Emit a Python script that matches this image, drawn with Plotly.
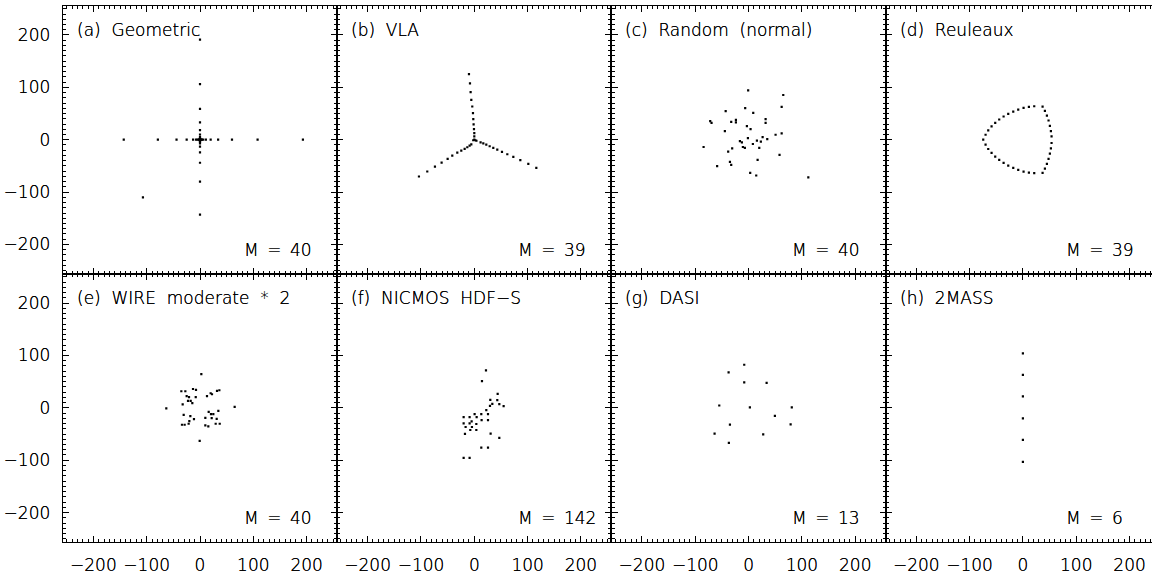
import plotly.graph_objects as go

# ---------------- data ----------------
panel_labels = ["(a)\u00a0\u00a0Geometric", "(b)\u00a0\u00a0VLA", "(c)\u00a0\u00a0Random\u00a0\u00a0(normal)",
                "(d)\u00a0\u00a0Reuleaux", "(e)\u00a0\u00a0WIRE\u00a0\u00a0moderate\u00a0\u00a0*\u00a0\u00a02",
                "(f)\u00a0\u00a0NICMOS\u00a0\u00a0HDF\u2212S", "(g)\u00a0\u00a0DASI", "(h)\u00a0\u00a02MASS"]
panel_M = [40, 39, 40, 39, 40, 142, 13, 6]

geo_x = [193, 108, 60, 34, 20, 11, 6, 3.5, 2,
         -143, -79, -44, -25, -13, -7.5, -4.4, -2.4, -1.2,
         0, 0, 0, 0, 0, 0, 0, 0, 0,
         0, 0, 0, 0, 0, 0, 0, 0, 0,
         -107, 0, 1, 0]
geo_y = [0, 0, 0, 0, 0, 0, 0, 0, 0,
         0, 0, 0, 0, 0, 0, 0, 0, 0,
         191, 106, 59, 33, 18.5, 10, 5.7, 3.2, 1.8,
         -143, -80, -44, -24, -13.3, -7, -4, -2.2, -1.2,
         -110, 0, 0, 1]

vla_x = [-10, -8.1, -6.9, -5.6, -3.8, -2.5, -1.9, -1.3, -0.6, 0, 0,
         -103.8, -88.2, -73.8, -61.3, -50, -41.3, -31.9, -24.4, -18.1, -13.1, -8.8, -5.6,
         116.3, 101.3, 86.3, 73.2, 61.9, 51.9, 43.1, 35.6, 28.8, 22.5, 16.9, 11.8,
         0, 2, -2, 4]
vla_y = [125.3, 107.6, 91, 75.9, 63.4, 50.7, 39.3, 29.2, 20.3, 12.6, 6.3,
         -70.2, -60.7, -51.2, -43.6, -36.6, -30.4, -24.7, -20.9, -17.6, -14.4, -11.4, -8.7,
         -53.7, -46.1, -39.1, -32.8, -27.7, -23.3, -19, -15.7, -12.5, -9.5, -6.8, -4.9,
         0, -1, -1, -2]

rnd_x = [-0.8, 65, 62, -43, -6.4, 8.7, -72, -69.5, -32.6, -23.8, -23.8, 31.9, 31.9,
         -44.5, -3.2, 3.7, 62, 50.6, 26.3, 35, -1.3, 15.6, 23, -16.3, -12.6, 8,
         -84.4, -10.7, -7, 20, -30.8, -38.3, 58, 16.9, -35, -32.6, -59, 3, 14.3, 112]
rnd_y = [94.3, 85.4, 62.6, 54.5, 60.2, 51.2, 35.5, 32.3, 34.2, 38, 33, 39.3, 32.3,
         16.5, 26, 20.3, 12, 9.5, 5.1, 1.3, 3.2, -1.9, -3.8, -2.5, -5, -8.2,
         -13.9, -13.9, -15.7, -15.7, -16.4, -22.8, -29, -38.5, -42.3, -48, -50.6, -63.2, -68.3, -72]

reu_x = [-74.4, -70.0, -65.0, -58.75, -51.9, -44.4, -36.2, -27.5, -18.1, -8.75, 1.25, 11.25, 21.25,
         36.9, 41.25, 45.0, 48.1, 50.6, 52.5, 53.75, 53.75, 52.5, 50.6, 48.1, 45.0, 41.25,
         36.9, 21.25, 11.25, 1.25, -8.75, -18.1, -27.5, -36.2, -44.4, -51.9, -58.75, -65.0, -70.0]
reu_y = [0, 9.5, 17.7, 25.3, 32.3, 38.6, 44.3, 49.4, 53.8, 57.6, 60.8, 62.7, 63.9,
         63.3, 55.1, 46.2, 36.7, 26.6, 16.5, 6.3, -6.3, -16.5, -26.6, -36.7, -46.2, -55.1,
         -63.3, -63.9, -62.7, -60.8, -57.6, -53.8, -49.4, -44.3, -38.6, -32.3, -25.3, -17.7, -9.5]

wire_x = [2.5, -35, -27.5, -13.1, -7.5, 20, 22.5, 31.9, 36.3, 13.1, -25, -20.6, -8,
          -22.5, -17.5, -14.4, -32.5, -63.2, 65, 16.3, 34.4, 20.6, 25, -30.6, -18.1,
          10, 21.9, 31.3, -11.3, -20, 29.4, 37, -33.8, -28.8, -21.3, 10, 15.6, -0.6]
wire_y = [64.5, 31.7, 31.7, 36, 34.2, 27.9, 26, 32.3, 33.6, 22.2, 22.2, 20.3, 20.3,
          13.3, 13.3, 8.9, 6.5, -1.2, 1.9, -7.6, -5.7, -12, -12, -13.3, -15.7,
          -19, -19.5, -20.9, -21.4, -25.2, -30.4, -30.4, -32.3, -32.3, -30.4, -33.4, -35.3, -63.2]

nic_x = [21.9, 14.4, 43.8, 30, 43.1, 33.8, 46.9, 55, 29.4, 22.5, 0.6, 13.1, 25.7,
         -20, -8.8, 4.4, 13.7, 25.7, -5, -20, -8.8, 3.8, -16.3, -4.4, -7.5, 3.8,
         -17.5, 30.6, 46.9, 13.1, 25.7, -20, -8.8]
nic_y = [71.5, 51.2, 26.6, 15.2, 14.6, 7.6, 7, 3.2, 3.8, -4.4, -12, -12, -12,
         -17.6, -17.6, -17.6, -23.3, -23.3, -25.8, -29.6, -29.6, -30.9, -36.6, -36.6, -42.3, -42.3,
         -49.9, -49.3, -57.5, -75.9, -75.9, -95.4, -95.4]

dasi_x = [-8.2, -37.5, -8.2, 33.8, -55, 2.4, 81, 49.3, -35, 78.8, -63.8, 27.4, -37]
dasi_y = [82.3, 67.7, 48.8, 47.5, 4.5, 0.7, 0.7, -15.2, -32.2, -31.5, -49.3, -50.5, -67]

tmass_x = [0, 0, 0, 0, 0, 0]
tmass_y = [104, 63, 22, -20, -61, -103]

series = [(geo_x, geo_y), (vla_x, vla_y), (rnd_x, rnd_y), (reu_x, reu_y),
          (wire_x, wire_y), (nic_x, nic_y), (dasi_x, dasi_y), (tmass_x, tmass_y)]

# ---------------- layout ----------------
W, H = 1152, 575
PANEL_W = 274.3          # px
LEFT0 = 62.85            # px
XHALF = 257.2            # data half-range in x
YHALF = 256.0
ROW_TOP = [5.7, 275.7]   # px from top
PANEL_H = 270.0

FONT = dict(family="DejaVu Sans", size=17, color="black", weight=200,
            shadow="0px 0px 0.4px black")

fig = go.Figure()
layout = dict(width=W, height=H, margin=dict(l=0, r=0, t=0, b=0),
              paper_bgcolor="white", plot_bgcolor="white", showlegend=False,
              font=FONT)
annotations = []

for k in range(8):
    r, c = divmod(k, 4)
    sfx = "" if k == 0 else str(k + 1)
    left = LEFT0 + PANEL_W * c
    right = min(left + PANEL_W, W)
    xr = [-XHALF, -XHALF + (right - left) / PANEL_W * 2 * XHALF]
    top = ROW_TOP[r]
    bot = top + PANEL_H
    xs, ys = series[k]
    fig.add_trace(go.Scatter(x=xs, y=ys, mode="markers", xaxis="x" + sfx, yaxis="y" + sfx,
                             marker=dict(symbol="square", size=2.2, color="black",
                                         line=dict(width=0)),
                             hoverinfo="skip"))
    common = dict(showline=True, linecolor="black", linewidth=1.3,
                  ticks="inside", ticklen=6, tickwidth=1, tickcolor="black",
                  tick0=0, dtick=100, showgrid=False, zeroline=False,
                  minor=dict(dtick=10, ticks="inside", ticklen=3, tickwidth=1,
                             tickcolor="black", showgrid=False),
                  tickfont=FONT, ticklabelstandoff=8, fixedrange=True)
    layout["xaxis" + sfx] = dict(common, domain=[left / W, right / W], range=xr,
                                 anchor="y" + sfx, mirror="allticks",
                                 showticklabels=(r == 1))
    layout["yaxis" + sfx] = dict(common, domain=[(H - bot) / H, (H - top) / H],
                                 range=[-YHALF, YHALF], anchor="x" + sfx,
                                 mirror=("allticks" if c < 3 else False),
                                 showticklabels=(c == 0))
    annotations.append(dict(text=panel_labels[k], x=-235, y=209, xref="x" + sfx, yref="y" + sfx,
                            xanchor="left", yanchor="middle", showarrow=False, font=FONT))
    annotations.append(dict(text="M\u2002=\u2002%d" % panel_M[k], x=78, y=-210, xref="x" + sfx,
                            yref="y" + sfx, xanchor="left", yanchor="middle",
                            showarrow=False, font=FONT))

layout["annotations"] = annotations
fig.update_layout(**layout)
fig.write_html("out.html", config={"displayModeBar": False},
               post_script="document.body.style.margin='0';document.body.style.overflow='hidden';")
